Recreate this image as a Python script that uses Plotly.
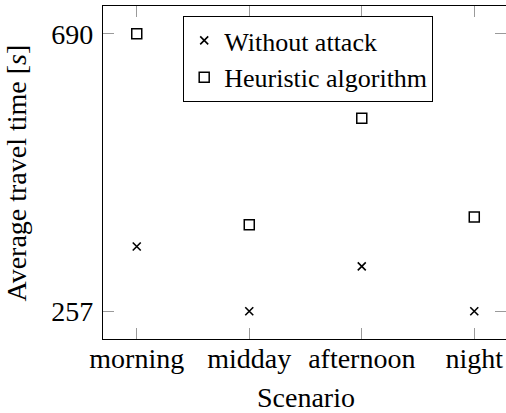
import plotly.graph_objects as go

scenarios = ["morning", "midday", "afternoon", "night"]
without_attack = [358, 257, 327, 257]
heuristic = [690, 392, 558, 404]
y_ticks = [257, 690]

FONT = "Liberation Serif"
FS = 28
FS_LEG = 26
Y_RANGE = [213.7, 733.3]

fig = go.Figure()
fig.add_trace(go.Scatter(
    x=scenarios, y=without_attack, mode="markers", name="Without attack",
    marker=dict(symbol="x-thin-open", size=8, color="black",
                line=dict(color="black", width=1.6)),
))
fig.add_trace(go.Scatter(
    x=scenarios, y=heuristic, mode="markers", name="Heuristic algorithm",
    marker=dict(symbol="square-open", size=10, color="black",
                line=dict(color="black", width=1.5)),
))
# invisible helper trace for right-side mirrored y ticks
fig.add_trace(go.Scatter(x=[scenarios[0]], y=[y_ticks[0]], yaxis="y2",
                         mode="markers", marker=dict(opacity=0),
                         showlegend=False, hoverinfo="skip"))

fig.update_layout(
    width=506, height=413,
    margin=dict(l=103, r=0, t=6, b=74),
    paper_bgcolor="white", plot_bgcolor="white",
    font=dict(family=FONT, size=FS, color="black"),
    showlegend=True,
    legend=dict(
        x=0.199, y=0.97, xanchor="left", yanchor="top",
        bordercolor="black", borderwidth=1, bgcolor="white",
        font=dict(family=FONT, size=FS_LEG), itemwidth=30,
        tracegroupgap=0,
    ),
    xaxis=dict(
        type="category", categoryorder="array", categoryarray=scenarios,
        range=[-0.3, 3.282], showgrid=False, zeroline=False,
        showline=True, linecolor="black", linewidth=1.3, mirror="ticks",
        ticks="inside", ticklen=11, tickcolor="#9a9a9a", tickwidth=1,
        ticklabelstandoff=-6,
    ),
    yaxis=dict(
        range=Y_RANGE, tickvals=y_ticks, ticktext=[str(v) for v in y_ticks],
        showgrid=False, zeroline=False,
        showline=True, linecolor="black", linewidth=1.3, mirror=False,
        ticks="inside", ticklen=11, tickcolor="#9a9a9a", tickwidth=1,
        ticklabelstandoff=3,
    ),
    yaxis2=dict(
        overlaying="y", side="right", range=Y_RANGE, tickvals=y_ticks,
        showticklabels=False, showgrid=False, zeroline=False, showline=False,
        ticks="inside", ticklen=11, tickcolor="#9a9a9a", tickwidth=1,
    ),
    annotations=[
        dict(text="Scenario", xref="paper", yref="paper", x=0.5025, y=-0.175,
             xanchor="center", yanchor="middle", showarrow=False,
             font=dict(family=FONT, size=FS)),
        dict(text="Average travel time [<i>s</i>]", xref="paper", yref="paper",
             x=-0.2134, y=0.5, xanchor="center", yanchor="middle",
             textangle=-90, showarrow=False, font=dict(family=FONT, size=FS)),
    ],
)

fig.write_html("out.html", config={"displayModeBar": False},
               post_script="document.body.style.margin='0';")
